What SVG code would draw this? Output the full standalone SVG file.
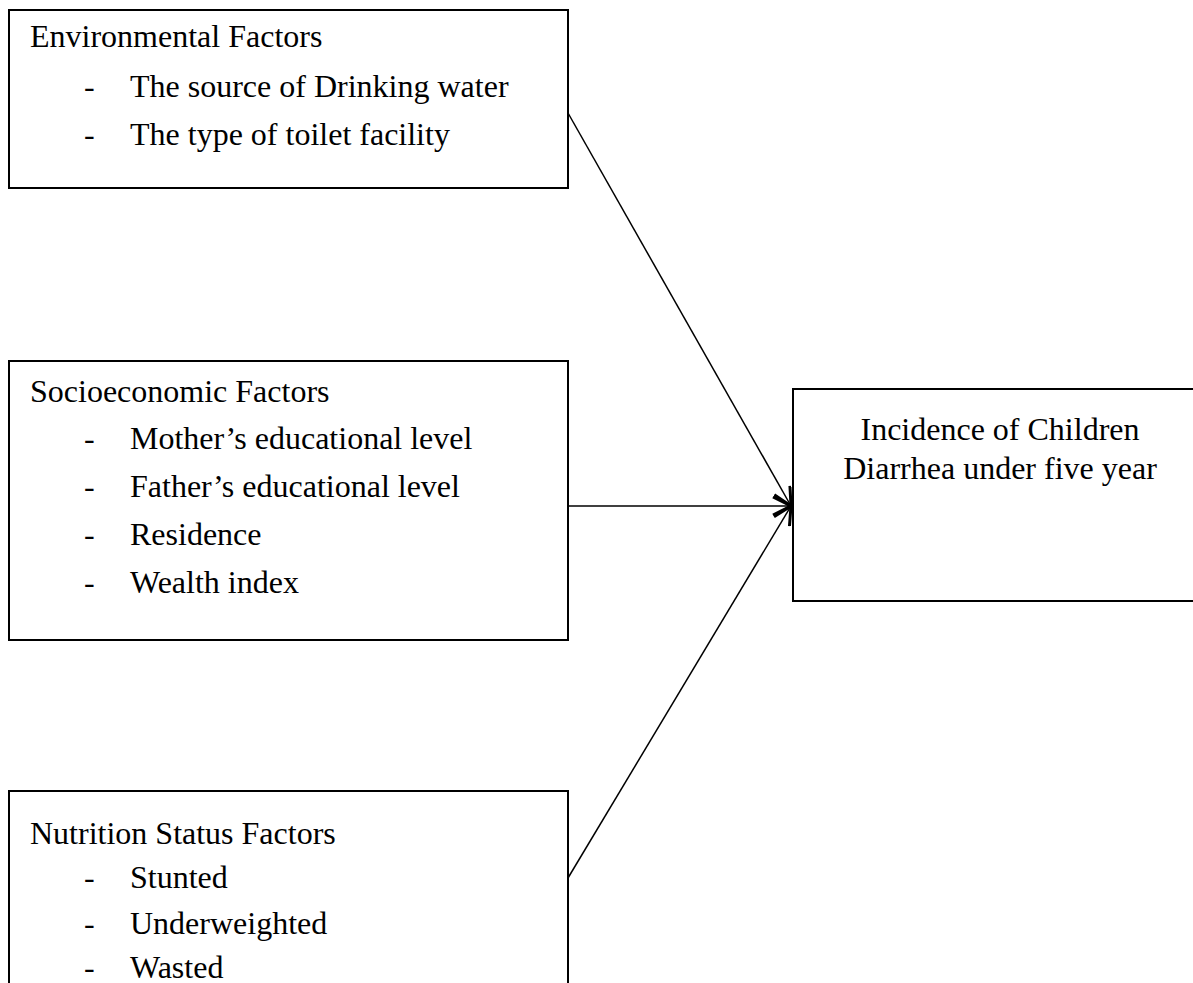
<svg xmlns="http://www.w3.org/2000/svg" width="1193" height="983" viewBox="0 0 1193 983">
<defs>
<style>
.box{fill:#fff;stroke:#000;stroke-width:2}
.t{font-family:"Liberation Serif","Times New Roman",serif;font-size:32px;fill:#000}
.c{fill:none;stroke:#000;stroke-width:1.5}
</style>
<marker id="arr" viewBox="0 0 20 20" refX="19" refY="10" markerWidth="20" markerHeight="20" markerUnits="userSpaceOnUse" orient="auto">
<path d="M1,1 L19,10 L1,19" fill="none" stroke="#000" stroke-width="3"/>
</marker>
</defs>
<rect width="1193" height="983" fill="#fff"/>
<g id="env">
<rect class="box" x="9" y="10" width="559" height="178"/>
<text class="t" x="30" y="47">Environmental Factors</text>
<text class="t" x="84" y="97">-</text>
<text class="t" x="130" y="97">The source of Drinking water</text>
<text class="t" x="84" y="145">-</text>
<text class="t" x="130" y="145">The type of toilet facility</text>
</g>
<g id="socio">
<rect class="box" x="9" y="361" width="559" height="279"/>
<text class="t" x="30" y="402">Socioeconomic Factors</text>
<text class="t" x="84" y="449">-</text>
<text class="t" x="130" y="449">Mother’s educational level</text>
<text class="t" x="84" y="497">-</text>
<text class="t" x="130" y="497">Father’s educational level</text>
<text class="t" x="84" y="545">-</text>
<text class="t" x="130" y="545">Residence</text>
<text class="t" x="84" y="593">-</text>
<text class="t" x="130" y="593">Wealth index</text>
</g>
<g id="nutri">
<rect class="box" x="9" y="791" width="559" height="210"/>
<text class="t" x="30" y="844">Nutrition Status Factors</text>
<text class="t" x="84" y="888">-</text>
<text class="t" x="130" y="888">Stunted</text>
<text class="t" x="84" y="934">-</text>
<text class="t" x="130" y="934">Underweighted</text>
<text class="t" x="84" y="978">-</text>
<text class="t" x="130" y="978">Wasted</text>
</g>
<g id="outcome">
<rect class="box" x="793" y="389" width="420" height="212"/>
<text class="t" x="1000" y="440" text-anchor="middle">Incidence of Children</text>
<text class="t" x="1000" y="479" text-anchor="middle">Diarrhea under five year</text>
</g>
<g id="connectors">
<line class="c" x1="568" y1="113" x2="791" y2="506" marker-end="url(#arr)"/>
<line class="c" x1="568" y1="506" x2="791" y2="506" marker-end="url(#arr)"/>
<line class="c" x1="568" y1="878" x2="791" y2="506" marker-end="url(#arr)"/>
</g>
</svg>
